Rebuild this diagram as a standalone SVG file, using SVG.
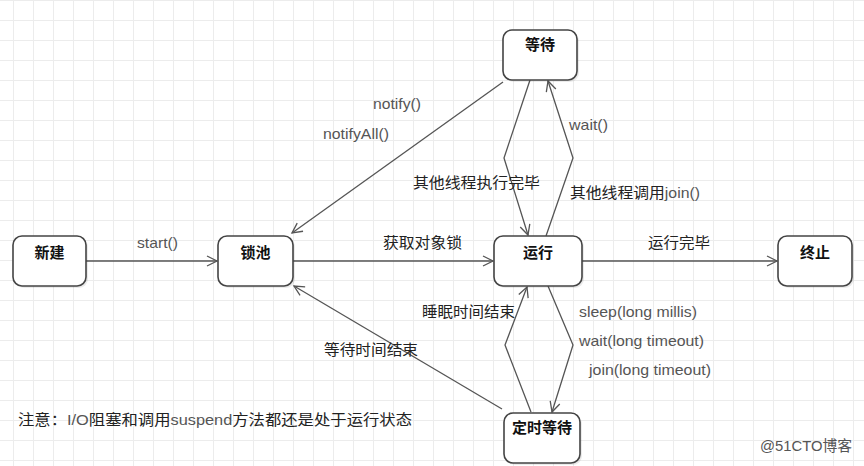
<svg xmlns="http://www.w3.org/2000/svg" width="864" height="466" viewBox="0 0 864 466">
<defs>
<pattern id="grid" x="13" y="0" width="20" height="20" patternUnits="userSpaceOnUse">
<path d="M0,0.5 H20 M0.5,0 V20" fill="none" stroke="#ececec" stroke-width="1"/>
</pattern>
<marker id="arr" markerWidth="14" markerHeight="14" refX="11" refY="6" orient="auto" markerUnits="userSpaceOnUse">
<path d="M1,1 L11,6 L1,11" fill="none" stroke="#555" stroke-width="1.3"/>
</marker>
<style>
.box{fill:#fff;stroke:#444;stroke-width:1.6}
.shadow{fill:#000;opacity:0.08}
.nl{font-family:"Liberation Sans","Noto Sans CJK SC",sans-serif;font-size:15px;font-weight:bold;fill:#111;text-anchor:middle}
.c{fill:none;stroke:#555;stroke-width:1.3}
.en{font-family:"Liberation Sans","Noto Sans CJK SC",sans-serif;font-size:15px;fill:#555}
.zh{font-family:"Liberation Sans","Noto Sans CJK SC",sans-serif;font-size:15px;fill:#222}
</style>
</defs>
<rect width="864" height="466" fill="#fff"/>
<rect width="864" height="466" fill="url(#grid)"/>

<g id="connectors">
<path class="c" d="M86,261 H217" marker-end="url(#arr)"/>
<path class="c" d="M293,261 H493" marker-end="url(#arr)"/>
<path class="c" d="M582,261 H777" marker-end="url(#arr)"/>
<path class="c" d="M503,82 L292,233" marker-end="url(#arr)"/>
<path class="c" d="M530,80 L504,158 L528,235" marker-end="url(#arr)"/>
<path class="c" d="M546,236 L573,158 L548,81" marker-end="url(#arr)"/>
<path class="c" d="M502,409 L294,286" marker-end="url(#arr)"/>
<path class="c" d="M531,412 L505,345 L527,287" marker-end="url(#arr)"/>
<path class="c" d="M548,286 L573,345 L552,412" marker-end="url(#arr)"/>
</g>

<g id="node-xinjian">
<rect class="shadow" x="15" y="238" width="73" height="50" rx="9"/>
<rect class="box" x="13" y="236" width="73" height="50" rx="9"/>
<text class="nl" x="49.5" y="258">新建</text>
</g>
<g id="node-suochi">
<rect class="shadow" x="220" y="238" width="75" height="50" rx="9"/>
<rect class="box" x="218" y="236" width="75" height="50" rx="9"/>
<text class="nl" x="255.5" y="258">锁池</text>
</g>
<g id="node-yunxing">
<rect class="shadow" x="496" y="238" width="88" height="50" rx="9"/>
<rect class="box" x="494" y="236" width="88" height="50" rx="9"/>
<text class="nl" x="538" y="258">运行</text>
</g>
<g id="node-zhongzhi">
<rect class="shadow" x="780" y="238" width="74" height="50" rx="9"/>
<rect class="box" x="778" y="236" width="74" height="50" rx="9"/>
<text class="nl" x="815" y="258">终止</text>
</g>
<g id="node-dengdai">
<rect class="shadow" x="505" y="32" width="74" height="50" rx="9"/>
<rect class="box" x="503" y="30" width="74" height="50" rx="9"/>
<text class="nl" x="540" y="50">等待</text>
</g>
<g id="node-dingshi">
<rect class="shadow" x="506" y="415" width="76" height="50" rx="9"/>
<rect class="box" x="504" y="413" width="76" height="50" rx="9"/>
<text class="nl" x="542" y="433">定时等待</text>
</g>

<g id="labels">
<text class="en" x="137" y="248" textLength="41" lengthAdjust="spacingAndGlyphs">start()</text>
<text class="en" x="373" y="109" textLength="48" lengthAdjust="spacingAndGlyphs">notify()</text>
<text class="en" x="323" y="139" textLength="66" lengthAdjust="spacingAndGlyphs">notifyAll()</text>
<text class="zh" x="413" y="188" textLength="127" lengthAdjust="spacingAndGlyphs">其他线程执行完毕</text>
<text class="en" x="569" y="130" textLength="39" lengthAdjust="spacingAndGlyphs">wait()</text>
<text class="zh" x="570" y="198" textLength="130" lengthAdjust="spacingAndGlyphs">其他线程调用<tspan class="en">join()</tspan></text>
<text class="zh" x="383" y="248" textLength="79" lengthAdjust="spacingAndGlyphs">获取对象锁</text>
<text class="zh" x="648" y="248" textLength="62" lengthAdjust="spacingAndGlyphs">运行完毕</text>
<text class="zh" x="422" y="317" textLength="93" lengthAdjust="spacingAndGlyphs">睡眠时间结束</text>
<text class="en" x="579" y="317" textLength="118" lengthAdjust="spacingAndGlyphs">sleep(long millis)</text>
<text class="en" x="579" y="346" textLength="125" lengthAdjust="spacingAndGlyphs">wait(long timeout)</text>
<text class="en" x="589" y="375" textLength="122" lengthAdjust="spacingAndGlyphs">join(long timeout)</text>
<text class="zh" x="324" y="355" textLength="94" lengthAdjust="spacingAndGlyphs">等待时间结束</text>
<text class="zh" x="18" y="425" textLength="394" lengthAdjust="spacingAndGlyphs">注意：<tspan fill="#555">I/O</tspan>阻塞和调用<tspan fill="#555">suspend</tspan>方法都还是处于运行状态</text>
<text class="en" x="760" y="451" fill="#666" textLength="92" lengthAdjust="spacingAndGlyphs">@51CTO博客</text>
</g>
</svg>
